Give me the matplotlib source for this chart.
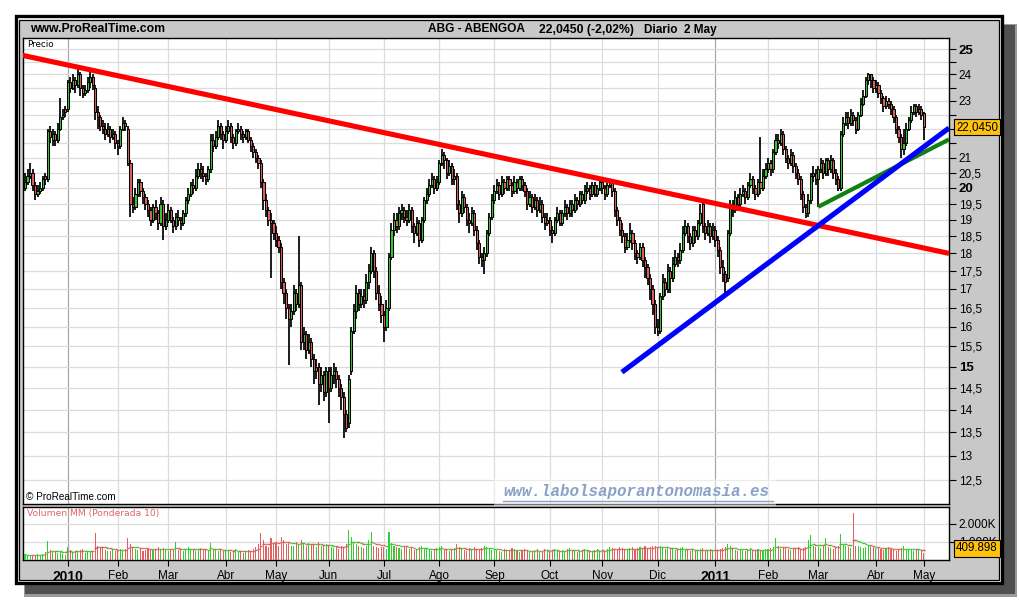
import numpy as np
import pandas as pd
import matplotlib
matplotlib.use("Agg")
import matplotlib.pyplot as plt
import matplotlib.transforms as mtrans
from matplotlib.patches import Rectangle
from matplotlib.ticker import FixedLocator, NullLocator

plt.rcParams['font.family'] = ['Liberation Sans', 'DejaVu Sans']

# ---------------- data ----------------
holidays = ['2009-12-25', '2010-01-01', '2010-04-02', '2010-04-05', '2011-04-22', '2011-04-25']
month_names = ['Ene', 'Feb', 'Mar', 'Abr', 'May', 'Jun', 'Jul', 'Ago', 'Sep', 'Oct', 'Nov', 'Dic']

opens = [
    20.0,20.2,20.4,20.5,20.1,19.8,19.9,20.0,20.4,20.3,21.9,21.6,21.8,21.6,22.0,22.4,22.7,
    22.7,23.7,23.5,23.8,23.6,24.0,23.5,23.3,23.4,23.7,23.9,23.5,22.6,22.4,22.1,22.0,21.8,22.0,21.7,21.8,
    21.5,21.4,22.0,22.2,22.0,20.8,19.5,19.4,19.8,20.2,19.9,19.7,19.5,19.3,19.0,19.4,19.2,18.9,19.5,18.8,
    19.0,19.3,19.0,18.8,19.1,19.0,18.9,19.2,19.6,19.8,20.1,20.0,20.4,20.6,20.5,20.4,20.3,20.6,21.6,21.4,21.7,22.1,21.8,
    21.6,21.9,22.1,21.7,21.5,21.9,22.0,21.8,21.7,21.9,21.6,21.4,21.2,21.0,20.8,20.2,19.6,19.3,19.0,18.9,
    18.6,18.4,18.2,17.2,16.9,16.5,16.2,16.4,16.9,16.6,17.1,15.6,15.8,15.4,15.6,15.2,14.9,15.0,14.6,14.8,14.4,
    14.9,14.5,14.8,14.9,14.7,14.5,14.3,13.9,13.7,14.9,15.9,16.4,16.9,16.6,16.8,16.7,17.2,17.5,18.0,17.5,16.9,16.6,
    16.3,16.0,16.5,17.9,18.7,19.0,18.8,19.2,19.3,19.1,19.0,19.3,18.8,18.6,18.9,18.4,19.0,19.6,19.8,20.1,20.3,20.0,
    20.2,20.8,21.1,20.9,20.5,20.7,20.3,20.4,19.5,19.2,19.7,19.4,19.0,18.9,19.2,18.7,18.3,17.9,17.8,18.0,18.6,19.1,
    19.6,19.9,20.1,19.8,20.2,20.0,20.3,20.1,19.9,20.2,20.0,20.3,20.1,19.9,19.5,19.7,19.4,19.6,19.3,19.5,19.1,18.9,
    19.0,18.7,18.6,19.0,19.2,18.9,19.2,19.4,19.2,19.5,19.3,19.6,19.5,19.8,19.6,19.9,20.0,19.8,20.1,19.8,20.0,
    20.2,20.0,19.8,20.1,20.2,19.9,19.3,19.0,18.7,18.5,18.2,18.4,18.6,18.3,18.0,17.9,18.2,17.8,17.6,17.3,17.0,16.6,
    16.0,15.9,16.8,17.2,17.0,17.5,17.3,17.7,17.9,17.8,18.1,18.6,18.8,18.5,18.3,18.7,18.5,18.9,19.5,18.8,18.6,18.8,18.5,
    18.7,18.4,18.1,17.6,17.4,17.3,18.6,19.5,19.3,19.7,19.5,19.8,19.9,19.7,20.1,20.3,20.0,19.8,20.2,20.0,20.4,
    20.6,20.8,20.6,21.2,21.6,21.5,21.8,21.3,21.0,20.8,21.1,20.7,20.5,20.3,19.8,19.4,19.2,19.6,20.4,20.5,
    20.3,20.6,20.8,20.5,20.9,20.6,20.9,20.5,20.3,20.0,21.8,22.2,22.4,22.2,22.5,22.3,22.0,22.5,22.9,23.2,23.8,24.0,23.8,
    23.5,23.6,23.3,23.1,22.8,23.0,22.9,22.7,22.4,22.0,21.7,21.3,21.5,22.0,22.3,22.6,22.8,22.6,22.7,
    22.55,
]
highs = [
    20.5,20.6,20.8,20.6,20.2,20.1,20.2,20.4,20.5,22.0,22.1,22.0,21.9,22.2,23.1,22.7,22.8,
    23.8,23.9,24.0,23.9,24.2,24.1,23.6,23.6,23.9,24.1,24.0,23.6,22.8,22.5,22.3,22.2,22.2,22.1,22.0,21.9,
    21.6,22.1,22.4,22.3,22.1,20.9,19.7,20.0,20.3,20.3,20.0,19.8,19.6,19.4,19.5,19.6,19.3,19.7,19.6,19.2,
    19.5,19.4,19.1,19.2,19.3,19.1,19.3,19.7,20.0,20.2,20.3,20.6,20.8,20.8,20.7,20.5,20.7,21.8,21.8,21.9,22.3,22.2,21.9,
    22.1,22.3,22.2,21.8,22.0,22.2,22.1,21.9,22.0,22.0,21.7,21.5,21.3,21.1,20.9,20.3,19.8,19.4,19.2,19.0,
    18.8,18.5,18.3,17.3,17.0,16.6,16.6,17.1,17.0,18.5,17.2,16.0,15.9,15.8,15.7,15.3,15.2,15.1,15.0,14.9,15.0,
    15.0,15.0,15.1,15.0,14.8,14.6,14.4,14.0,14.8,16.0,16.6,17.1,17.0,17.0,17.0,17.4,17.7,18.2,18.1,17.6,17.1,16.8,
    16.4,16.7,18.0,18.9,19.2,19.2,19.4,19.5,19.4,19.3,19.5,19.4,18.9,19.1,19.0,19.1,19.7,20.0,20.3,20.5,20.4,20.4,
    20.9,21.3,21.2,21.0,20.9,20.8,20.6,20.5,19.6,19.9,19.8,19.5,19.2,19.4,19.3,18.8,18.4,18.0,18.2,18.7,19.2,19.8,
    20.1,20.3,20.2,20.4,20.3,20.4,20.4,20.2,20.4,20.3,20.4,20.4,20.2,20.0,19.9,19.8,19.8,19.7,19.7,19.6,19.2,19.2,
    19.1,18.8,19.1,19.4,19.3,19.3,19.6,19.5,19.6,19.6,19.8,19.7,19.9,19.9,20.1,20.2,20.1,20.2,20.2,20.1,20.3,
    20.3,20.1,20.2,20.3,20.3,20.0,19.4,19.1,18.9,18.6,18.6,18.9,18.7,18.4,18.1,18.3,18.3,17.9,17.7,17.4,17.1,16.7,
    16.2,16.9,17.4,17.3,17.7,17.6,17.9,18.1,18.0,18.3,18.8,19.0,18.9,18.6,18.8,18.8,19.0,19.5,19.6,18.9,19.0,18.9,18.9,
    18.8,18.5,18.2,17.8,17.5,18.7,19.6,19.6,19.9,19.8,20.0,20.1,20.0,20.2,20.5,20.4,20.1,20.3,21.7,20.6,20.8,
    21.0,20.9,21.3,21.8,21.8,22.0,21.9,21.4,21.1,21.3,21.2,20.8,20.6,20.4,19.9,19.5,19.8,20.5,20.7,20.6,
    20.7,21.0,20.9,21.0,21.0,21.1,21.0,20.6,20.4,21.9,22.4,22.6,22.6,22.7,22.6,22.4,22.6,23.1,23.4,23.9,24.05,24.0,23.9,
    23.8,23.7,23.4,23.2,23.2,23.1,23.0,22.8,22.5,22.1,21.8,22.0,22.2,22.4,22.8,22.9,22.9,22.9,22.8,
    22.6,
]
lows = [
    19.9,20.1,20.3,19.9,19.6,19.7,19.8,19.9,20.1,20.2,21.5,21.4,21.4,21.5,21.9,22.3,22.4,
    22.6,23.3,23.4,23.3,23.5,23.2,23.1,23.2,23.3,23.5,23.4,22.3,22.0,21.9,21.8,21.6,21.7,21.5,21.6,21.3,
    21.1,21.3,21.9,21.9,20.7,19.1,19.2,19.3,19.7,19.7,19.5,19.3,19.1,18.8,18.9,19.0,18.7,18.8,18.4,18.7,
    18.9,18.9,18.6,18.7,18.8,18.7,18.8,19.1,19.5,19.7,19.8,19.9,20.3,20.3,20.2,20.1,20.2,20.5,21.2,21.3,21.6,21.6,21.3,
    21.5,21.8,21.5,21.3,21.4,21.8,21.6,21.5,21.6,21.5,21.2,21.0,20.8,20.6,20.0,19.3,19.1,18.8,17.3,18.4,
    18.2,18.0,17.0,16.6,16.2,15.05,16.0,16.3,16.4,16.5,15.4,15.4,15.2,15.3,15.0,14.6,14.7,14.1,14.4,14.2,14.3,
    13.7,14.4,14.6,14.5,14.3,14.0,13.37,13.5,13.6,14.8,15.8,16.2,16.4,16.5,16.5,16.6,17.0,17.4,17.3,16.7,16.4,16.1,
    15.6,15.9,16.4,17.8,18.5,18.6,18.7,19.0,18.9,18.8,18.9,18.6,18.3,18.5,18.2,18.3,18.9,19.5,19.7,20.0,19.8,19.9,
    20.1,20.7,20.6,20.3,20.4,20.1,20.1,19.3,18.9,19.1,19.2,18.8,18.6,18.8,18.5,18.1,17.7,17.6,17.4,17.9,18.5,19.0,
    19.5,19.8,19.6,19.7,19.8,19.9,19.9,19.7,19.8,19.8,19.9,19.9,19.7,19.3,19.4,19.2,19.3,19.1,19.2,18.9,18.7,18.8,
    18.5,18.3,18.5,18.9,18.8,18.8,19.1,19.0,19.1,19.1,19.2,19.3,19.4,19.5,19.5,19.8,19.6,19.7,19.7,19.7,19.9,
    19.8,19.6,19.7,20.0,19.7,19.1,18.8,18.5,18.3,18.0,18.1,18.3,18.1,17.8,17.7,17.8,17.6,17.3,17.1,16.7,16.3,15.8,
    15.77,15.8,16.7,16.8,16.9,16.9,17.2,17.6,17.6,17.7,18.0,18.5,18.3,18.1,18.2,18.3,18.4,18.8,18.6,18.4,18.5,18.3,18.4,
    18.2,17.9,17.4,17.2,16.9,17.2,18.5,19.1,19.2,19.3,19.4,19.7,19.5,19.6,20.0,19.8,19.6,19.7,19.8,19.9,20.3,
    20.5,20.4,20.5,21.1,21.3,21.4,21.1,20.8,20.6,20.7,20.5,20.3,20.1,19.6,19.2,19.05,19.1,19.5,20.2,20.1,
    19.4,20.5,20.3,20.4,20.4,20.5,20.3,20.1,19.9,19.9,21.7,22.1,22.0,22.1,22.1,21.8,21.9,22.4,22.8,23.1,23.6,23.5,23.3,
    23.3,23.1,22.9,22.6,22.7,22.7,22.5,22.2,21.8,21.5,21.0,21.1,21.4,21.9,22.2,22.5,22.4,22.5,22.3,
    21.6,
]
closes = [
    20.2,20.4,20.5,20.1,19.8,19.9,20.0,20.3,20.3,21.9,21.7,21.8,21.6,22.0,22.4,22.5,22.6,
    23.7,23.5,23.8,23.6,24.0,23.5,23.3,23.4,23.7,23.9,23.6,22.6,22.4,22.1,22.0,21.8,22.0,21.7,21.8,21.5,
    21.4,22.0,22.2,22.1,20.8,19.5,19.4,19.8,20.2,19.9,19.7,19.5,19.3,19.0,19.4,19.2,18.9,19.5,18.8,19.0,
    19.3,19.0,18.8,19.1,19.0,18.9,19.2,19.6,19.8,20.1,20.0,20.4,20.6,20.5,20.4,20.3,20.6,21.6,21.4,21.7,22.1,21.8,21.6,
    21.9,22.1,21.7,21.5,21.9,22.0,21.8,21.7,21.9,21.6,21.4,21.2,21.0,20.8,20.2,19.6,19.3,19.0,18.9,18.6,
    18.4,18.2,17.2,16.9,16.5,16.2,16.4,16.9,16.6,17.1,15.6,15.8,15.4,15.6,15.2,14.9,15.0,14.6,14.8,14.4,14.9,
    14.5,14.8,14.9,14.7,14.5,14.3,13.9,13.6,14.7,15.9,16.4,16.9,16.6,16.8,16.7,17.2,17.5,18.0,17.5,16.9,16.6,16.3,
    16.0,16.5,17.9,18.7,19.0,18.8,19.2,19.3,19.1,19.0,19.3,18.8,18.6,18.9,18.4,19.0,19.6,19.8,20.1,20.3,20.0,20.2,
    20.8,21.1,20.9,20.5,20.7,20.3,20.4,19.5,19.2,19.7,19.4,19.0,18.9,19.2,18.7,18.3,17.9,17.8,18.0,18.6,19.1,19.6,
    19.9,20.1,19.8,20.2,20.0,20.3,20.1,19.9,20.2,20.0,20.3,20.1,19.9,19.5,19.7,19.4,19.6,19.3,19.5,19.1,18.9,19.0,
    18.7,18.6,19.0,19.2,18.9,19.2,19.4,19.2,19.5,19.3,19.6,19.5,19.8,19.6,19.9,20.0,19.8,20.1,19.8,20.0,20.2,
    20.0,19.8,20.1,20.2,19.9,19.3,19.0,18.7,18.5,18.2,18.4,18.6,18.3,18.0,17.9,18.2,17.8,17.6,17.3,17.0,16.6,16.0,
    15.9,16.8,17.2,17.0,17.5,17.3,17.7,17.9,17.8,18.1,18.6,18.8,18.5,18.3,18.7,18.5,18.9,19.2,18.8,18.6,18.8,18.5,18.7,
    18.4,18.1,17.6,17.4,17.2,18.6,19.5,19.3,19.7,19.5,19.8,19.9,19.7,20.1,20.3,20.0,19.8,20.2,20.0,20.4,20.6,
    20.8,20.6,21.2,21.6,21.5,21.8,21.3,21.0,20.8,21.1,20.7,20.5,20.3,19.8,19.4,19.2,19.6,20.4,20.5,20.3,
    20.6,20.8,20.5,20.9,20.6,20.9,20.5,20.3,20.0,21.8,22.2,22.4,22.2,22.5,22.3,22.0,22.5,22.9,23.2,23.8,24.0,23.8,23.5,
    23.6,23.3,23.1,22.8,23.0,22.9,22.7,22.4,22.0,21.7,21.3,21.5,22.0,22.3,22.6,22.8,22.6,22.7,22.5,
    22.045,
]
volumes_k = [
    330,280,260,300,250,320,280,350,420,1050,560,480,450,380,420,360,300,
    700,540,460,520,480,560,600,380,430,520,470,1500,800,650,640,560,520,500,610,480,
    560,620,540,600,1200,900,700,620,560,600,520,580,650,560,540,620,700,580,640,600,
    500,560,620,1000,580,540,480,560,700,620,580,520,600,640,580,560,520,950,600,540,480,560,520,
    500,520,460,540,600,480,440,400,520,560,480,600,700,900,1500,1100,800,700,1200,900,
    1000,800,1300,1100,900,950,800,750,1000,850,1100,900,800,950,900,850,700,1000,800,750,900,
    800,700,650,750,600,800,700,900,1650,1300,1000,900,800,700,650,750,1100,1550,800,700,650,700,
    700,600,1550,950,800,700,650,600,700,750,600,650,550,600,700,800,650,600,550,500,600,650,
    700,750,600,550,500,600,650,900,700,600,550,500,650,600,700,550,600,650,800,700,600,550,
    600,550,500,450,600,550,500,650,600,500,450,550,600,500,450,500,550,600,500,450,600,550,
    500,550,600,500,450,550,500,600,650,550,500,450,500,550,600,500,450,500,550,600,500,
    550,500,600,700,650,600,550,700,650,600,550,650,700,600,650,700,600,750,650,700,750,800,
    700,780,650,600,700,650,600,550,600,650,700,600,550,500,600,550,500,600,650,550,500,600,550,
    500,550,600,650,700,900,750,600,550,500,600,550,500,600,650,550,500,600,550,500,600,
    600,650,700,1200,750,600,650,700,600,550,600,650,700,600,650,700,1100,1390,800,700,
    700,650,800,1200,700,650,600,700,750,1440,900,800,700,650,2600,800,750,700,650,700,750,800,700,
    650,700,600,550,650,700,600,550,500,600,650,780,600,550,600,500,550,600,500,
    409.898,
]

# trend lines (trading-day index, price)
red_line_x, red_line_y = [-1.0, 368.1], [24.75, 18.0]
blue_line_x, blue_line_y = [237.8, 368.1], [14.87, 22.02]
green_line_x, green_line_y = [316.0, 368.1], [19.40, 21.62]

price_ticks = [12.5, 13, 13.5, 14, 14.5, 15, 15.5, 16, 16.5, 17, 17.5, 18, 18.5, 19, 19.5,
               20, 20.5, 21, 21.5, 22, 22.5, 23, 23.5, 24, 24.5, 25]
unlabeled_ticks = [21.5, 22, 22.5, 23.5, 24.5]
bold_ticks = [15, 20, 25]

# ---------------- prep ----------------
dates = pd.bdate_range('2009-12-08', '2011-05-02')
dates = dates[~dates.isin(pd.to_datetime(holidays))]
n = min(len(dates), len(opens), len(highs), len(lows), len(closes), len(volumes_k))
o = np.array(opens[:n]); h = np.array(highs[:n]); l = np.array(lows[:n]); c = np.array(closes[:n])
v = np.array(volumes_k[:n], dtype=float)
x = np.arange(n)
dates = dates[:n]

month_idx = [i for i in range(1, n) if dates[i].month != dates[i - 1].month]
month_lbl = [str(dates[i].year) if dates[i].month == 1 else month_names[dates[i].month - 1] for i in month_idx]
year_idx = [i for i in month_idx if dates[i].month == 1]

GREEN = '#33cc33'
RED = '#e06060'
up = c >= o
cols = np.where(up, GREEN, RED)

W, H = 1020, 600
fig = plt.figure(figsize=(W / 100, H / 100), dpi=100)
fig.patch.set_facecolor('white')

# background frame
bg = fig.add_axes([0, 0, 1, 1], zorder=0)
bg.set_xlim(0, W); bg.set_ylim(H, 0); bg.axis('off')
bg.add_patch(Rectangle((24, 24), 993, 573, fc='#9a9a9a', ec='none'))
bg.add_patch(Rectangle((25, 25), 990, 569, fc='#505050', ec='none'))
bg.add_patch(Rectangle((16, 16), 986, 567, fc='white', ec='black', lw=2.4))
bg.add_patch(Rectangle((19.5, 19.5), 979.5, 560.5, fc='#c8c8c8', ec='black', lw=0.9))


def px_axes(lft, top, rgt, bot):
    return [lft / W, 1 - bot / H, (rgt - lft) / W, (bot - top) / H]


axp = fig.add_axes(px_axes(23, 38, 949, 504), zorder=2)
axv = fig.add_axes(px_axes(23, 507, 949, 560), zorder=2)
xlim = (-0.8, 368.1)

# ---- price panel ----
axp.set_yscale('log')
axp.set_xlim(*xlim)
axp.set_ylim(12.03, 25.45)
axp.set_facecolor('white')
for i in month_idx:
    axp.axvline(i, color='#a8a8a8' if i in year_idx else '#dcdcdc', lw=0.9, zorder=1)
for t in price_ticks:
    axp.axhline(t, color='#dcdcdc', lw=0.9, zorder=1)

axp.vlines(x, l, h, color='black', lw=1.25, zorder=3)
body_lo = np.minimum(o, c)
body_h = np.maximum(np.abs(c - o), 0.03)
axp.bar(x, body_h, bottom=body_lo, width=0.85, color=cols, edgecolor='black',
        linewidth=0.75, zorder=4)

axp.plot(red_line_x, red_line_y, color='#ff0000', lw=3.7, solid_capstyle='butt', zorder=6)
axp.plot(blue_line_x, blue_line_y, color='#0000ff', lw=3.7, solid_capstyle='butt', zorder=6)
axp.plot(green_line_x, green_line_y, color='#108010', lw=3.0, solid_capstyle='butt', zorder=5)

axp.yaxis.tick_right()
axp.yaxis.set_major_locator(FixedLocator(price_ticks))
axp.yaxis.set_minor_locator(NullLocator())
labels = []
for t in price_ticks:
    if t in unlabeled_ticks:
        labels.append('')
    else:
        labels.append(('%g' % t).replace('.', ','))
axp.set_yticklabels(labels)
axp.tick_params(axis='y', which='major', direction='out', length=5, width=0.8, pad=2,
                labelsize=8.5, colors='black')
for t, lab in zip(price_ticks, axp.get_yticklabels()):
    if t in bold_ticks:
        lab.set_fontweight('bold')
        lab.set_fontsize(9.5)
axp.set_xticks([])
for sp in axp.spines.values():
    sp.set_color('black'); sp.set_linewidth(1.0)

trans_p = mtrans.blended_transform_factory(axp.transAxes, axp.transData)
axp.text(1.0075, c[-1], ('%.4f' % c[-1]).replace('.', ','), transform=trans_p, ha='left',
         va='center', fontsize=8.3, color='black', zorder=10, clip_on=False,
         bbox=dict(boxstyle='square,pad=0.18', fc='#ffc20e', ec='black', lw=0.8))

# ---- volume panel ----
axv.set_xlim(*xlim)
axv.set_ylim(0, 2944)
axv.set_facecolor('white')
for i in month_idx:
    axv.axvline(i, color='#a8a8a8' if i in year_idx else '#dcdcdc', lw=0.9, zorder=1)
for t in [1000, 2000]:
    axv.axhline(t, color='#dcdcdc', lw=0.9, zorder=1)
axv.bar(x, v, width=0.42, color=cols, linewidth=0, zorder=3)

wts = np.arange(1, 11, dtype=float)
vma = np.empty(n)
for i in range(n):
    seg = v[max(0, i - 9):i + 1]
    ww = wts[-len(seg):]
    vma[i] = np.dot(seg, ww) / ww.sum()
axv.scatter(x, vma, marker='_', s=4, c=cols, linewidths=1.0, zorder=4)

axv.yaxis.tick_right()
axv.set_yticks([1000, 2000])
axv.set_yticklabels(['1.000K', '2.000K'])
axv.tick_params(axis='y', direction='out', length=5, width=0.8, pad=2, labelsize=8.5)
axv.set_xticks(month_idx)
axv.set_xticklabels(month_lbl)
axv.tick_params(axis='x', direction='out', length=4, width=0.8, pad=3, labelsize=8.5)
for i, lab in zip(month_idx, axv.get_xticklabels()):
    if i in year_idx:
        lab.set_fontweight('bold')
        lab.set_fontsize(10)
for sp in axv.spines.values():
    sp.set_color('black'); sp.set_linewidth(1.0)

trans_v = mtrans.blended_transform_factory(axv.transAxes, axv.transData)
axv.annotate(('%.3f' % v[-1]), xy=(1.0075, v[-1]), xycoords=trans_v, xytext=(0, 3),
             textcoords='offset points', ha='left', va='center', fontsize=8.3,
             annotation_clip=False, zorder=10,
             bbox=dict(boxstyle='square,pad=0.18', fc='#ffc20e', ec='black', lw=0.8))

# ---- overlay texts ----
ov = fig.add_axes([0, 0, 1, 1], zorder=10)
ov.set_xlim(0, W); ov.set_ylim(H, 0); ov.axis('off')
ov.text(30, 29.5, 'www.ProRealTime.com', fontsize=8.8, fontweight='bold', va='center', ha='left')
ov.text(525, 29.5, 'ABG - ABENGOA', fontsize=8.6, fontweight='bold', va='center', ha='right')
ov.text(539, 29.5, '22,0450 (-2,02%)', fontsize=8.8, fontweight='bold', va='center', ha='left')
ov.text(644, 29.5, 'Diario  2 May', fontsize=8.5, fontweight='bold', va='center', ha='left')
ov.text(27, 44.5, 'Precio', fontsize=6.3, va='center', ha='left', family=['DejaVu Sans'])
ov.text(26, 497.5, '\u00a9 ProRealTime.com', fontsize=7.2, va='center', ha='left')
ov.text(27, 513.5, 'Volumen MM (Ponderada 10)', fontsize=6.6, va='center', ha='left',
        color='#e06666', family=['DejaVu Sans'])
ov.add_patch(Rectangle((494, 479), 282, 27, fc='white', alpha=0.45, ec='none'))
ov.text(503, 491.5, 'www.labolsaporantonomasia.es', fontsize=11.4, fontweight='bold',
        style='italic', family=['Liberation Mono', 'DejaVu Sans Mono'], color='#8ba2c6',
        va='center', ha='left')
ov.plot([503, 773], [500.5, 500.5], color='#8ba2c6', lw=1.0)

fig.savefig('out.png', dpi=100, facecolor='white')
